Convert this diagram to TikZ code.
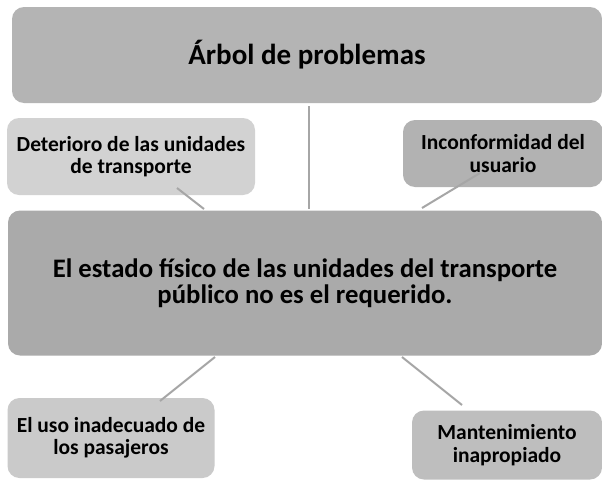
\documentclass[tikz,border=0pt]{standalone}
\usepackage{fontspec}
\setmainfont{Carlito}
\begin{document}
\begin{tikzpicture}[x=1pt,y=-1pt,
  box/.style={rounded corners=12pt, inner sep=0pt, align=center},
  smalltext/.style={font=\bfseries\fontsize{21.5}{22.5}\selectfont},
  link/.style={draw=linegray, line width=2pt}]
\definecolor{topgray}{HTML}{B4B4B4}
\definecolor{centergray}{HTML}{AAAAAA}
\definecolor{dgray}{HTML}{D2D2D2}
\definecolor{igray}{HTML}{B2B2B2}
\definecolor{ugray}{HTML}{CACACA}
\definecolor{mgray}{HTML}{BEBEBE}
\definecolor{linegray}{HTML}{A6A6A6}
\useasboundingbox (0,0) rectangle (602,479);
\fill[white] (0,0) rectangle (602,479);
% boxes
\node[box, fill=topgray, minimum width=590pt, minimum height=96pt, font=\bfseries\fontsize{29}{30}\selectfont] (top) at (307,55) {Árbol de problemas};
\node[box, fill=dgray, minimum width=248pt, minimum height=77pt, smalltext] (det) at (131,156.5) {Deterioro de las unidades\\de transporte};
\node[box, fill=igray, minimum width=200pt, minimum height=67pt, smalltext] (inc) at (503,153.5) {Inconformidad del\\usuario};
\node[box, fill=centergray, minimum width=594pt, minimum height=145pt, font=\bfseries\fontsize{26.7}{25.5}\selectfont] (est) at (305,283) {El estado físico de las unidades del transporte\\público no es el requerido.};
\node[box, fill=ugray, minimum width=207pt, minimum height=80pt, smalltext] (uso) at (111,438) {El uso inadecuado de\\los pasajeros};
\node[box, fill=mgray, minimum width=190pt, minimum height=69pt, smalltext] (man) at (507,445) {Mantenimiento\\inapropiado};
% connector end points
\coordinate (c1a) at (309,106); \coordinate (c1b) at (309,209);
\coordinate (c2a) at (177,188); \coordinate (c2b) at (204,209);
\coordinate (c3a) at (480,173); \coordinate (c3b) at (422,208);
\coordinate (c4a) at (215,357); \coordinate (c4b) at (160,401);
\coordinate (c5a) at (402,357); \coordinate (c5b) at (462,405);
\draw[link] (c1a) -- (c1b);
\draw[link] (c2a) -- (c2b);
\draw[link] (c3a) -- (c3b);
\draw[link] (c4a) -- (c4b);
\draw[link] (c5a) -- (c5b);
\end{tikzpicture}
\end{document}
